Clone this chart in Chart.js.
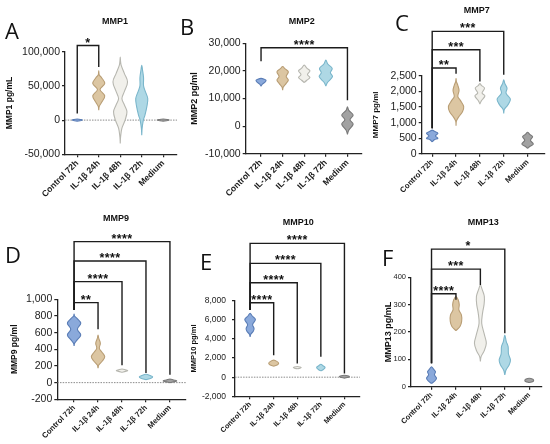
<!DOCTYPE html>
<html>
<head>
<meta charset="utf-8">
<script src="https://cdn.jsdelivr.net/npm/chart.js@4.4.1/dist/chart.umd.min.js"></script>
<style>
  body { margin: 0; background: #fff; }
  #wrap { position: relative; width: 550px; height: 444px; overflow: hidden; }
  canvas { position: absolute; }
  .letter { position: absolute; font-family: "Open Sans", sans-serif; font-size: 22px; line-height: 1; color: #111; }
  .ttl { position: absolute; font-family: "Liberation Sans", Arial, sans-serif; font-weight: bold; font-size: 9px;
         line-height: 1; color: #111; white-space: nowrap; transform: translate(-50%, -50%); }
</style>
</head>
<body>
<div id="wrap">
  <canvas id="cA" width="182" height="200" style="left:0;top:0"></canvas>
  <canvas id="cB" width="184" height="200" style="left:182px;top:0"></canvas>
  <canvas id="cC" width="184" height="200" style="left:366px;top:0"></canvas>
  <canvas id="cD" width="190" height="244" style="left:0;top:200px"></canvas>
  <canvas id="cE" width="172" height="244" style="left:190px;top:200px"></canvas>
  <canvas id="cF" width="188" height="244" style="left:362px;top:200px"></canvas>

  <div class="letter" style="left:5px;top:19px">A</div>
  <div class="letter" style="left:180px;top:14.5px">B</div>
  <div class="letter" style="left:395px;top:11px">C</div>
  <div class="letter" style="left:5px;top:243px">D</div>
  <div class="letter" style="left:200px;top:249.5px">E</div>
  <div class="letter" style="left:382px;top:246px">F</div>

  <div class="ttl" style="left:115px;top:20.7px">MMP1</div>
  <div class="ttl" style="left:301.7px;top:20.7px">MMP2</div>
  <div class="ttl" style="left:476.7px;top:10px">MMP7</div>
  <div class="ttl" style="left:116px;top:218.3px">MMP9</div>
  <div class="ttl" style="left:298.3px;top:221.7px">MMP10</div>
  <div class="ttl" style="left:483.3px;top:221.7px">MMP13</div>
</div>
<script>
const categories = ["Control 72h", "IL-1β 24h", "IL-1β 48h", "IL-1β 72h", "Medium"];

// violin profiles: levels (pg/ml, bottom to top) and relative density at each level
const mmp1Levels = [
  [-1500, -700, 0, 700, 1500],
  [14600, 20000, 26000, 35400, 44800, 53500, 62000, 66000, 71900],
  [-34000, -25000, -12000, 0, 12100, 22000, 31600, 42000, 55800, 68000, 80000, 86000, 92300],
  [-22000, -12000, 0, 7300, 20000, 31600, 42000, 50000, 62000, 72000, 80000],
  [-1500, -700, 0, 700, 1500]
];
const mmp1Density = [
  [0, 0.6, 0.8, 0.6, 0],
  [0, 0.08, 0.45, 0.93, 0.2, 0.93, 0.45, 0.08, 0],
  [0, 0.05, 0.25, 0.75, 1.04, 0.65, 0.26, 0.65, 1.13, 0.65, 0.15, 0.05, 0],
  [0, 0.06, 0.25, 0.5, 0.8, 0.93, 0.55, 0.28, 0.28, 0.14, 0],
  [0, 0.7, 0.93, 0.7, 0]
];
const mmp2Levels = [
  [14500, 15300, 16000, 16600, 17000, 17300],
  [13000, 14200, 15500, 16700, 18000, 19700, 20800, 21600],
  [15800, 16600, 17600, 18700, 20000, 21000, 22100],
  [14500, 15800, 17900, 19300, 20900, 22500, 23900],
  [-3000, -1500, 700, 2300, 4000, 5700, 7000]
];
const mmp2Density = [
  [0, 0.25, 0.65, 0.77, 0.5, 0],
  [0, 0.1, 0.55, 0.88, 0.55, 0.88, 0.35, 0],
  [0, 0.4, 0.88, 0.5, 0.88, 0.4, 0],
  [0, 0.25, 1.03, 0.7, 0.98, 0.3, 0],
  [0, 0.2, 0.88, 0.4, 0.88, 0.2, 0]
];
const mmp7Levels = [
  [380, 450, 497, 571, 658, 720, 760],
  [900, 1050, 1194, 1350, 1516, 1700, 1839, 2032, 2200, 2320, 2420],
  [1600, 1700, 1861, 1950, 2110, 2200, 2260],
  [1300, 1420, 1560, 1755, 1948, 2110, 2260, 2380],
  [170, 240, 313, 430, 548, 620, 690]
];
const mmp7Density = [
  [0, 0.3, 0.8, 0.45, 0.8, 0.3, 0],
  [0, 0.05, 0.4, 0.9, 1.07, 0.65, 0.25, 0.42, 0.25, 0.05, 0],
  [0, 0.2, 0.7, 0.3, 0.65, 0.2, 0],
  [0, 0.08, 0.55, 0.93, 0.32, 0.46, 0.15, 0],
  [0, 0.35, 0.8, 0.4, 0.7, 0.3, 0]
];
const mmp9Levels = [
  [440, 470, 510, 572, 640, 713, 770, 800, 824],
  [173, 212, 260, 312, 370, 413, 473, 530, 572],
  [125, 135, 144, 153, 163],
  [36, 52, 68, 84, 100],
  [0, 12, 22, 32, 44]
];
const mmp9Density = [
  [0, 0.06, 0.4, 0.93, 0.46, 0.93, 0.4, 0.06, 0],
  [0, 0.1, 0.6, 0.93, 0.5, 0.18, 0.32, 0.1, 0],
  [0, 0.5, 0.8, 0.5, 0],
  [0, 0.7, 0.93, 0.6, 0],
  [0, 0.7, 0.93, 0.5, 0]
];
const mmp10Levels = [
  [4220, 4500, 4800, 5100, 5500, 6040, 6400, 6670],
  [1150, 1300, 1450, 1600, 1780],
  [880, 940, 1000, 1060, 1120],
  [660, 800, 1015, 1200, 1360],
  [-100, 0, 60, 120, 200]
];
const mmp10Density = [
  [0, 0.1, 0.45, 0.56, 0.35, 0.75, 0.3, 0],
  [0, 0.55, 0.7, 0.55, 0],
  [0, 0.4, 0.56, 0.4, 0],
  [0, 0.35, 0.6, 0.3, 0],
  [0, 0.6, 0.7, 0.6, 0]
];
const mmp13Levels = [
  [12, 20, 31, 43, 55, 65, 73],
  [205, 220, 240, 262, 281, 300, 318, 330],
  [92, 110, 130, 159, 190, 232, 270, 300, 330, 355, 372],
  [43, 60, 80, 98, 120, 147, 165, 189],
  [15, 19, 23, 27, 31]
];
const mmp13Density = [
  [0, 0.4, 0.68, 0.4, 0.54, 0.25, 0],
  [0, 0.55, 0.78, 0.75, 0.4, 0.45, 0.3, 0],
  [0, 0.1, 0.5, 0.81, 0.55, 0.18, 0.3, 0.5, 0.54, 0.25, 0],
  [0, 0.15, 0.6, 0.77, 0.5, 0.45, 0.2, 0],
  [0, 0.5, 0.6, 0.5, 0]
];

// significance brackets from Control 72h: [to group, bracket level, right leg end, stars]
const mmp1Sig = [[1, 109000, 77700, "*"]];
const mmp2Sig = [[4, 28400, 9400, "****"]];
const mmp7Sig = [[1, 2755, 2571, "**"], [2, 3345, 2323, "***"], [3, 3935, 2539, "***"]];
const mmp9Sig = [[1, 960, 641, "**"], [2, 1212, 210, "****"], [3, 1460, 115, "****"], [4, 1692, 95, "****"]];
const mmp10Sig = [[1, 7780, 2300, "****"], [2, 9875, 1430, "****"], [3, 11900, 2130, "****"], [4, 14000, 380, "****"]];
const mmp13Sig = [[1, 340, 318, "****"], [2, 430, 372, "***"], [3, 503, 195, "*"]];
// bottom of the shared left leg above Control 72h
const sigBase = [9700, 23500, 819, 872, 7015, 86];

// y tick labels
const mmp1Ticks = [-50000, 0, 50000, 100000];
const mmp2Ticks = [-10000, 0, 10000, 20000, 30000];
const mmp7Ticks = [0, 500, 1000, 1500, 2000, 2500];
const mmp9Ticks = [-200, 0, 200, 400, 600, 800, 1000];
const mmp10Ticks = [-2000, 0, 2000, 4000, 6000, 8000];
const mmp13Ticks = [0, 100, 200, 300, 400];

const fills = ["#8aa9db", "#dcc6a2", "#f1f0eb", "#aed8e5", "#a2a2a2"];
const borders = ["#5a7db6", "#b99e75", "#b7b7b0", "#7ab6cb", "#7a7a7a"];
const FONT = "'Liberation Sans', Arial, sans-serif";

const starPlugin = {
  id: "stars",
  afterDatasetsDraw(chart, args, opts) {
    const {ctx, scales: {x, y}} = chart;
    ctx.save();
    ctx.font = "bold 12.5px " + FONT;
    ctx.textAlign = "center";
    ctx.textBaseline = "alphabetic";
    ctx.fillStyle = "#111";
    if ("letterSpacing" in ctx) ctx.letterSpacing = "0.4px";
    opts.sig.forEach(s => {
      ctx.fillText(s[3], x.getPixelForValue(s[0] / 2), y.getPixelForValue(s[1]) + 1);
    });
    ctx.restore();
  }
};

function violinOutline(i, levels, dens, half) {
  const right = levels.map((v, k) => ({x: i + dens[k] * half, y: v}));
  const left = levels.map((v, k) => ({x: i - dens[k] * half, y: v})).reverse();
  return right.concat(left.slice(1));
}

function makePanel(p) {
  const datasets = [];
  if (p.zero) {
    datasets.push({
      data: [{x: p.xMin, y: 0}, {x: p.xMax, y: 0}],
      borderColor: "#8a8a8a", borderWidth: 1, borderDash: [1.5, 1.2],
      pointRadius: 0, fill: false, order: 3
    });
  }
  p.levels.forEach((lv, i) => {
    datasets.push({
      data: violinOutline(i, lv, p.dens[i], 0.3),
      backgroundColor: fills[i], borderColor: borders[i], borderWidth: 1.1,
      fill: "shape", tension: 0.35, pointRadius: 0, order: 2
    });
  });
  p.sig.forEach(s => {
    datasets.push({
      data: [{x: 0, y: p.base}, {x: 0, y: s[1]}, {x: s[0], y: s[1]}, {x: s[0], y: s[2]}],
      borderColor: "#1c1c1c", borderWidth: 1.4, tension: 0,
      pointRadius: 0, fill: false, clip: false, order: 1
    });
  });

  new Chart(document.getElementById(p.id), {
    type: "line",
    data: {datasets},
    options: {
      responsive: false,
      animation: false,
      layout: {padding: {top: p.padTop, right: p.padRight, left: 0, bottom: 0}},
      plugins: {legend: {display: false}, tooltip: {enabled: false}, stars: {sig: p.sig}},
      scales: {
        x: {
          type: "linear", min: p.xMin, max: p.xMax,
          afterBuildTicks: s => { s.ticks = categories.map((c, i) => ({value: i})); },
          afterFit: s => { s.height = p.xH; },
          grid: {drawOnChartArea: false, color: "#222", tickLength: 3, lineWidth: 1.2},
          border: {color: "#222", width: 1.3},
          ticks: {
            callback: v => categories[v], minRotation: 45, maxRotation: 45, padding: 1,
            autoSkip: false, color: "#1a1a1a", font: {family: FONT, size: p.catSize, weight: "bold"}
          }
        },
        y: {
          min: p.yMin, max: p.yMax,
          afterBuildTicks: s => { s.ticks = p.ticks.map(v => ({value: v})); },
          afterFit: s => { s.width = p.yW; },
          grid: {drawOnChartArea: false, color: "#222", tickLength: 3, lineWidth: 1.2},
          border: {color: "#222", width: 1.3},
          ticks: {
            callback: v => v.toLocaleString("en-US"), padding: p.tickPad, autoSkip: false,
            color: "#222", font: {family: FONT, size: p.tickSize}
          },
          title: {
            display: true, text: p.title, color: "#111",
            padding: {top: p.titleX - p.titleSize / 2, bottom: 0},
            font: {family: FONT, size: p.titleSize, weight: "bold", lineHeight: 1}
          }
        }
      }
    },
    plugins: [starPlugin]
  });
}

const panels = [
  {id: "cA", yW: 65, padTop: 51.7, padRight: 5, xH: 45.7, xMin: -0.57, xMax: 4.64,
   yMin: -50000, yMax: 100000, ticks: mmp1Ticks, levels: mmp1Levels, dens: mmp1Density,
   sig: mmp1Sig, base: sigBase[0], zero: true, title: "MMP1 pg/mL", titleSize: 8.5, titleX: 10,
   tickSize: 10.5, tickPad: 2, catSize: 8.6},
  {id: "cB", yW: 63.7, padTop: 43.3, padRight: 4.3, xH: 46.3, xMin: -0.71, xMax: 4.66,
   yMin: -10000, yMax: 30000, ticks: mmp2Ticks, levels: mmp2Levels, dens: mmp2Density,
   sig: mmp2Sig, base: sigBase[1], zero: false, title: "MMP2 pg/ml", titleSize: 9, titleX: 13,
   tickSize: 10.5, tickPad: 2, catSize: 8.6},
  {id: "cC", yW: 55.7, padTop: 76, padRight: 5, xH: 46.3, xMin: -0.44, xMax: 4.73,
   yMin: 0, yMax: 2500, ticks: mmp7Ticks, levels: mmp7Levels, dens: mmp7Density,
   sig: mmp7Sig, base: sigBase[2], zero: false, title: "MMP7 pg/ml", titleSize: 8, titleX: 10,
   tickSize: 10.5, tickPad: 2, catSize: 7.8},
  {id: "cD", yW: 57.3, padTop: 99.3, padRight: 4, xH: 44.7, xMin: -0.7, xMax: 4.67,
   yMin: -200, yMax: 1000, ticks: mmp9Ticks, levels: mmp9Levels, dens: mmp9Density,
   sig: mmp9Sig, base: sigBase[3], zero: true, title: "MMP9 pg/ml", titleSize: 8.5, titleX: 15,
   tickSize: 10.5, tickPad: 2, catSize: 7.8},
  {id: "cE", yW: 45, padTop: 100.7, padRight: 2, xH: 47.7, xMin: -0.64, xMax: 4.66,
   yMin: -2000, yMax: 8000, ticks: mmp10Ticks, levels: mmp10Levels, dens: mmp10Density,
   sig: mmp10Sig, base: sigBase[4], zero: true, title: "MMP10 pg/ml", titleSize: 7.5, titleX: 3.5,
   tickSize: 8.5, tickPad: 6, catSize: 7.2},
  {id: "cF", yW: 49, padTop: 77.3, padRight: 8.3, xH: 57.3, xMin: -0.84, xMax: 4.51,
   yMin: 0, yMax: 400, ticks: mmp13Ticks, levels: mmp13Levels, dens: mmp13Density,
   sig: mmp13Sig, base: sigBase[5], zero: false, title: "MMP13 pg/mL", titleSize: 9, titleX: 26.7,
   tickSize: 7.5, tickPad: 2, catSize: 7.4}
];

panels.forEach(makePanel);
</script>
</body>
</html>
